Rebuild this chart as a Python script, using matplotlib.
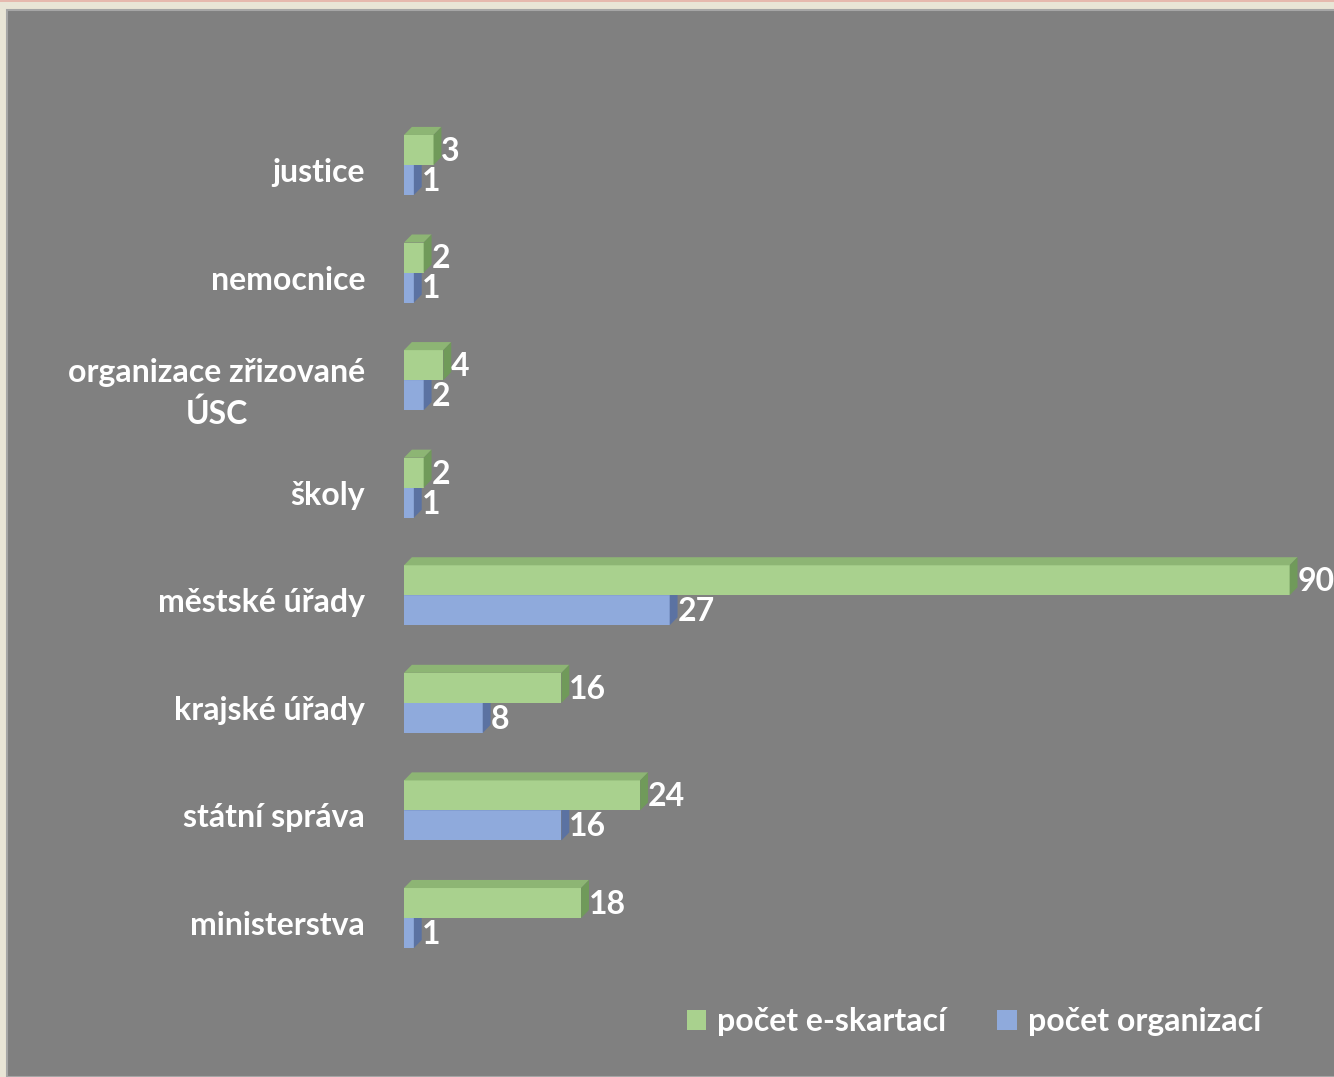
import matplotlib.pyplot as plt
from matplotlib.patches import Polygon, Rectangle, Patch
from matplotlib.transforms import ScaledTranslation

categories = ['ministerstva', 'státní správa', 'krajské úřady', 'městské úřady',
              'školy', 'organizace zřizované\nÚSC', 'nemocnice', 'justice']
skartace = [18, 24, 16, 90, 2, 4, 2, 3]
organizace = [1, 16, 8, 27, 1, 2, 1, 1]

GREEN = '#A9D18E'
GREEN_TOP = '#8DB574'
GREEN_SIDE = '#709A5A'
BLUE = '#8FAADC'
BLUE_TOP = '#7590C4'
BLUE_SIDE = '#5B72A2'

plt.rcParams['font.family'] = ['Lato', 'DejaVu Sans']

W, H = 1334, 1077
fig = plt.figure(figsize=(W / 100, H / 100), dpi=100, facecolor='#E9E5D6')

# gray panel with thin light border, pink line at the very top
fig.patches.append(Rectangle((7 / W, 0), 1, 1 - 10 / H, transform=fig.transFigure,
                             facecolor='#808080', edgecolor='#A6A6A6', lw=1.5,
                             zorder=-5))
fig.patches.append(Rectangle((0, 1 - 2 / H), 1, 2 / H, transform=fig.transFigure,
                             facecolor='#E6B9AE', edgecolor='none', zorder=-5))

ax = fig.add_axes([404 / W, 97 / H, 925 / W, 920 / H])
ax.set_facecolor('none')
ax.set_xlim(0, 94)
ax.set_ylim(-0.576, 7.976)
for s in ax.spines.values():
    s.set_visible(False)
ax.set_xticks([])

h = 0.279
dx = 0.8
dy = 0.075


def bar3d(y0, val, face, top, side, z):
    ax.barh(y0 + h / 2, val, height=h, left=0, color=face, zorder=z)
    y1 = y0 + h
    ax.add_patch(Polygon([(0, y1), (val, y1), (val + dx, y1 + dy), (dx, y1 + dy)],
                         closed=True, facecolor=top, edgecolor='none', zorder=z))
    ax.add_patch(Polygon([(val, y0), (val, y1), (val + dx, y1 + dy), (val + dx, y0 + dy)],
                         closed=True, facecolor=side, edgecolor='none', zorder=z))
    ax.annotate(str(val), (val + dx, y0 + h / 2), xytext=(0, -1),
                textcoords='offset points', ha='left', va='center',
                color='white', fontsize=23, fontweight='bold', zorder=10)


for i in range(len(categories)):
    bar3d(i - h, organizace[i], BLUE, BLUE_TOP, BLUE_SIDE, 2 + i * 2)
    bar3d(i, skartace[i], GREEN, GREEN_TOP, GREEN_SIDE, 3 + i * 2)

ax.set_yticks(range(len(categories)))
ax.set_yticklabels(categories, color='white', fontsize=23, fontweight='bold',
                   multialignment='center', linespacing=1.45)
ax.tick_params(axis='y', length=0, pad=28)
shift = ScaledTranslation(0, -5 / 100, fig.dpi_scale_trans)
for lab in ax.get_yticklabels():
    lab.set_transform(lab.get_transform() + shift)

handles = [Patch(facecolor=GREEN), Patch(facecolor=BLUE)]
fig.legend(handles, ['počet e-skartací', 'počet organizací'], loc='center',
           bbox_to_anchor=(974 / W, 1 - 1022 / H), ncol=2, frameon=False,
           handlelength=0.6, handleheight=0.6, handletextpad=0.35,
           columnspacing=1.6, labelcolor='white',
           prop={'size': 23, 'weight': 'bold'})

fig.savefig('out.png', dpi=100, facecolor=fig.get_facecolor())
